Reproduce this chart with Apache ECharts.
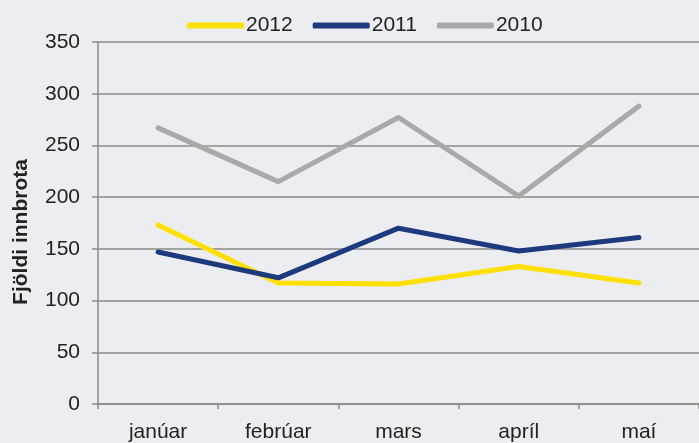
<!DOCTYPE html>
<html>
<head>
<meta charset="utf-8">
<script src="https://cdn.jsdelivr.net/npm/echarts@6/dist/echarts.min.js"></script>
<style>
  html, body { margin: 0; padding: 0; background: #ecedf0; }
  #main { width: 699px; height: 443px; }
</style>
</head>
<body>
<div id="main"></div>
<script>
var months = ['janúar', 'febrúar', 'mars', 'apríl', 'maí'];
var years = ['2012', '2011', '2010'];
var data2012 = [173, 117, 116, 133, 117];
var data2011 = [147, 122, 170, 148, 161];
var data2010 = [267, 215, 277, 201, 288];
var colors = ['#ffe000', '#1d3a7e', '#a8a9ab'];

var myChart = echarts.init(document.getElementById('main'));

function makeSeries(name, values, color) {
    return {
        name: name,
        type: 'line',
        data: values,
        symbol: 'none',
        lineStyle: { color: color, width: 5, cap: 'round', join: 'round' },
        itemStyle: { color: color },
        animation: false
    };
}

var option = {
    backgroundColor: '#ecedf0',
    textStyle: { fontFamily: 'Liberation Sans, Arial, sans-serif' },
    legend: {
        left: 182,
        top: 10,
        icon: 'roundRect',
        itemWidth: 57,
        itemHeight: 6,
        itemGap: 20,
        textStyle: { fontSize: 21, color: '#222', padding: [0, 0, 0, -3] },
        data: years
    },
    grid: {
        left: 98,
        right: -8,
        top: 42,
        bottom: 35,
        containLabel: false
    },
    xAxis: {
        type: 'category',
        data: months,
        boundaryGap: true,
        axisLine: { lineStyle: { color: '#8a8a8a', width: 1.5 } },
        axisTick: { show: true, length: 5, lineStyle: { color: '#8a8a8a', width: 1.5 } },
        axisLabel: { fontSize: 21, color: '#222', margin: 18 }
    },
    yAxis: {
        type: 'value',
        min: 0,
        max: 350,
        interval: 50,
        name: 'Fjöldi innbrota',
        nameLocation: 'middle',
        nameGap: 66,
        nameTextStyle: { fontSize: 21, fontWeight: 'bold', color: '#222', padding: [0, 18, 0, 0] },
        axisLine: { show: true, lineStyle: { color: '#8a8a8a', width: 1.5 } },
        axisTick: { show: true, length: 6, lineStyle: { color: '#8a8a8a', width: 1.5 } },
        axisLabel: { fontSize: 21, color: '#222', margin: 18 },
        splitLine: { lineStyle: { color: '#8a8a8a', width: 1.5 } }
    },
    series: [
        makeSeries(years[0], data2012, colors[0]),
        makeSeries(years[1], data2011, colors[1]),
        makeSeries(years[2], data2010, colors[2])
    ]
};

myChart.setOption(option);
</script>
</body>
</html>
